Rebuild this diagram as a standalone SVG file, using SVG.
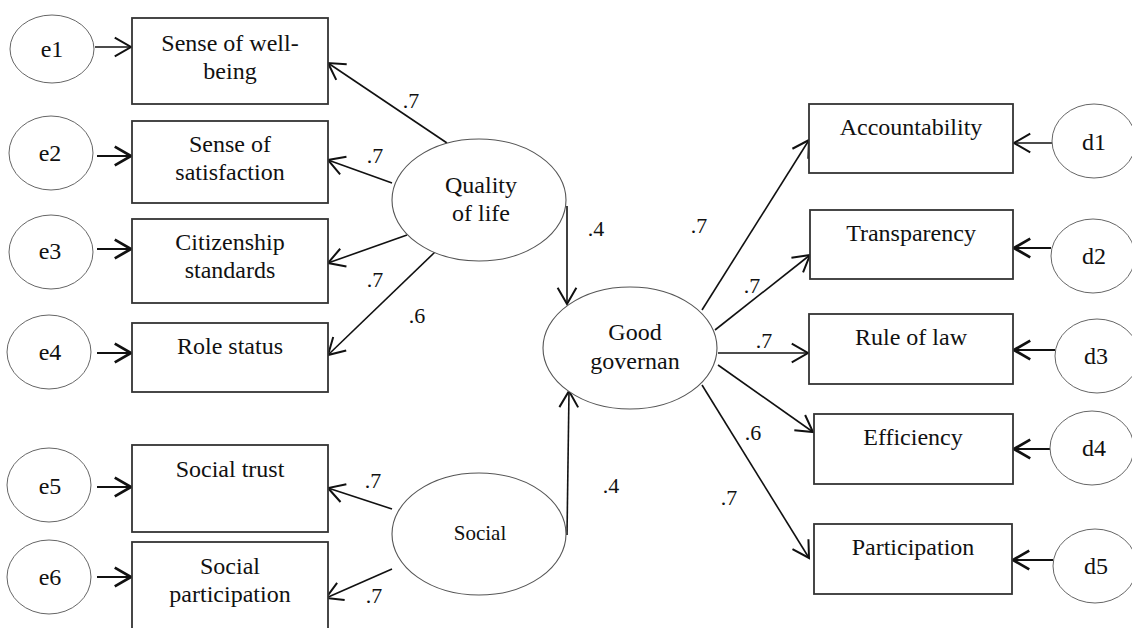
<svg xmlns="http://www.w3.org/2000/svg" width="1132" height="628" viewBox="0 0 1132 628" font-family="'Liberation Serif', 'Times New Roman', 'DejaVu Serif', serif">
<style>
text{font-family:'Liberation Serif','Times New Roman','DejaVu Serif',serif;fill:#111;text-anchor:middle}
.t{font-size:24px}
.l{font-size:22px}
.box{fill:#fff;stroke:#333;stroke-width:1.8}
.ell{fill:#fff;stroke:#666;stroke-width:1}
.lat{fill:#fff;stroke:#555;stroke-width:1.1}
.c{stroke:#111;stroke-width:1.6;fill:none}
.cb{stroke:#111;stroke-width:2.2;fill:none}
</style>
<defs>
<marker id="a" markerUnits="userSpaceOnUse" markerWidth="30" markerHeight="30" refX="0" refY="0" viewBox="-16 -12 20 24" orient="auto" overflow="visible">
<path d="M-13,-7.5 L0,0 L-13,7.5" fill="none" stroke="#111" stroke-width="1.6"/>
</marker>
<marker id="ab" markerUnits="userSpaceOnUse" markerWidth="30" markerHeight="30" refX="0" refY="0" viewBox="-16 -12 20 24" orient="auto" overflow="visible">
<path d="M-13,-7.5 L0,0 L-13,7.5" fill="none" stroke="#111" stroke-width="2.2"/>
</marker>
</defs>
<rect width="1132" height="628" fill="#fff"/>

<g id="connectors">
<line class="c" x1="95" y1="47" x2="131" y2="47" marker-end="url(#a)"/>
<line class="cb" x1="97" y1="156" x2="131" y2="156" marker-end="url(#ab)"/>
<line class="cb" x1="97" y1="249" x2="131" y2="249" marker-end="url(#ab)"/>
<line class="cb" x1="97" y1="353" x2="131" y2="353" marker-end="url(#ab)"/>
<line class="cb" x1="97" y1="487" x2="131" y2="487" marker-end="url(#ab)"/>
<line class="cb" x1="97" y1="577" x2="131" y2="577" marker-end="url(#ab)"/>

<line class="c" x1="447" y1="143" x2="328" y2="63" marker-end="url(#a)"/>
<line class="c" x1="392" y1="183" x2="328" y2="160" marker-end="url(#a)"/>
<line class="c" x1="407" y1="235" x2="328" y2="263" marker-end="url(#a)"/>
<line class="c" x1="435" y1="252" x2="328" y2="355" marker-end="url(#a)"/>
<line class="c" x1="392" y1="509" x2="328" y2="488" marker-end="url(#a)"/>
<line class="c" x1="392" y1="569" x2="326" y2="598" marker-end="url(#a)"/>

<line class="c" x1="567" y1="206" x2="567" y2="304" marker-end="url(#a)"/>
<line class="c" x1="567" y1="535" x2="569" y2="391" marker-end="url(#a)"/>

<line class="c" x1="702" y1="310" x2="809" y2="140" marker-end="url(#a)"/>
<line class="c" x1="715" y1="330" x2="810" y2="255" marker-end="url(#a)"/>
<line class="c" x1="718" y1="353" x2="808" y2="353" marker-end="url(#a)"/>
<line class="c" x1="718" y1="365" x2="813" y2="432" marker-end="url(#a)"/>
<line class="c" x1="702" y1="385" x2="809" y2="558" marker-end="url(#a)"/>

<line class="c" x1="1052" y1="143" x2="1014" y2="143" marker-end="url(#a)"/>
<line class="cb" x1="1051" y1="248" x2="1014" y2="248" marker-end="url(#ab)"/>
<line class="cb" x1="1055" y1="350" x2="1014" y2="350" marker-end="url(#ab)"/>
<line class="cb" x1="1050" y1="449" x2="1014" y2="449" marker-end="url(#ab)"/>
<line class="cb" x1="1053" y1="560" x2="1013" y2="560" marker-end="url(#ab)"/>

<text class="l" x="411" y="108">.7</text>
<text class="l" x="375" y="163">.7</text>
<text class="l" x="375" y="287">.7</text>
<text class="l" x="417" y="323">.6</text>
<text class="l" x="596" y="236">.4</text>
<text class="l" x="611" y="493">.4</text>
<text class="l" x="373" y="488">.7</text>
<text class="l" x="374" y="603">.7</text>
<text class="l" x="699" y="233">.7</text>
<text class="l" x="752" y="293">.7</text>
<text class="l" x="764" y="348">.7</text>
<text class="l" x="753" y="440">.6</text>
<text class="l" x="729" y="505">.7</text>
</g>

<g id="e1"><ellipse class="ell" cx="52" cy="49" rx="42" ry="34"/><text class="t" x="52" y="57">e1</text></g>
<g id="e2"><ellipse class="ell" cx="51" cy="153" rx="42" ry="37"/><text class="t" x="50" y="161">e2</text></g>
<g id="e3"><ellipse class="ell" cx="51" cy="252" rx="42" ry="37"/><text class="t" x="50" y="259">e3</text></g>
<g id="e4"><ellipse class="ell" cx="49" cy="352" rx="42" ry="37"/><text class="t" x="50" y="360">e4</text></g>
<g id="e5"><ellipse class="ell" cx="49" cy="485" rx="42" ry="37"/><text class="t" x="50" y="494">e5</text></g>
<g id="e6"><ellipse class="ell" cx="49" cy="577" rx="42" ry="37"/><text class="t" x="50" y="585">e6</text></g>

<g id="n1"><rect class="box" x="132" y="18" width="196" height="86"/><text class="t" x="230" y="51">Sense of well-</text><text class="t" x="230" y="79">being</text></g>
<g id="n2"><rect class="box" x="132" y="121" width="196" height="82"/><text class="t" x="230" y="152">Sense of</text><text class="t" x="230" y="180">satisfaction</text></g>
<g id="n3"><rect class="box" x="132" y="219" width="196" height="84"/><text class="t" x="230" y="250">Citizenship</text><text class="t" x="230" y="278">standards</text></g>
<g id="n4"><rect class="box" x="132" y="323" width="196" height="69"/><text class="t" x="230" y="354">Role status</text></g>
<g id="n5"><rect class="box" x="132" y="445" width="196" height="87"/><text class="t" x="230" y="477">Social trust</text></g>
<g id="n6"><rect class="box" x="132" y="542" width="196" height="100"/><text class="t" x="230" y="574">Social</text><text class="t" x="230" y="602">participation</text></g>

<g id="quality"><ellipse class="lat" cx="479" cy="200" rx="87" ry="61"/><text class="t" x="481" y="193">Quality</text><text class="t" x="481" y="221">of life</text></g>
<g id="social"><ellipse class="lat" cx="479" cy="534" rx="87" ry="61"/><text class="t" x="480" y="540" style="font-size:21px">Social</text></g>
<g id="good"><ellipse class="lat" cx="630" cy="348" rx="87" ry="61"/><text class="t" x="635" y="340">Good</text><text class="t" x="635" y="369">governan</text></g>

<g id="m1"><rect class="box" x="809" y="104" width="204" height="69"/><text class="t" x="911" y="135">Accountability</text></g>
<g id="m2"><rect class="box" x="810" y="210" width="203" height="69"/><text class="t" x="911" y="241">Transparency</text></g>
<g id="m3"><rect class="box" x="809" y="314" width="204" height="70"/><text class="t" x="911" y="345">Rule of law</text></g>
<g id="m4"><rect class="box" x="814" y="414" width="199" height="70"/><text class="t" x="913" y="445">Efficiency</text></g>
<g id="m5"><rect class="box" x="814" y="524" width="198" height="70"/><text class="t" x="913" y="555">Participation</text></g>

<g id="d1"><ellipse class="ell" cx="1094" cy="141" rx="42" ry="37"/><text class="t" x="1094" y="150">d1</text></g>
<g id="d2"><ellipse class="ell" cx="1093" cy="256" rx="42" ry="37"/><text class="t" x="1094" y="264">d2</text></g>
<g id="d3"><ellipse class="ell" cx="1097" cy="356" rx="42" ry="37"/><text class="t" x="1096" y="364">d3</text></g>
<g id="d4"><ellipse class="ell" cx="1092" cy="448" rx="42" ry="37"/><text class="t" x="1094" y="456">d4</text></g>
<g id="d5"><ellipse class="ell" cx="1095" cy="566" rx="42" ry="37"/><text class="t" x="1096" y="574">d5</text></g>
</svg>
